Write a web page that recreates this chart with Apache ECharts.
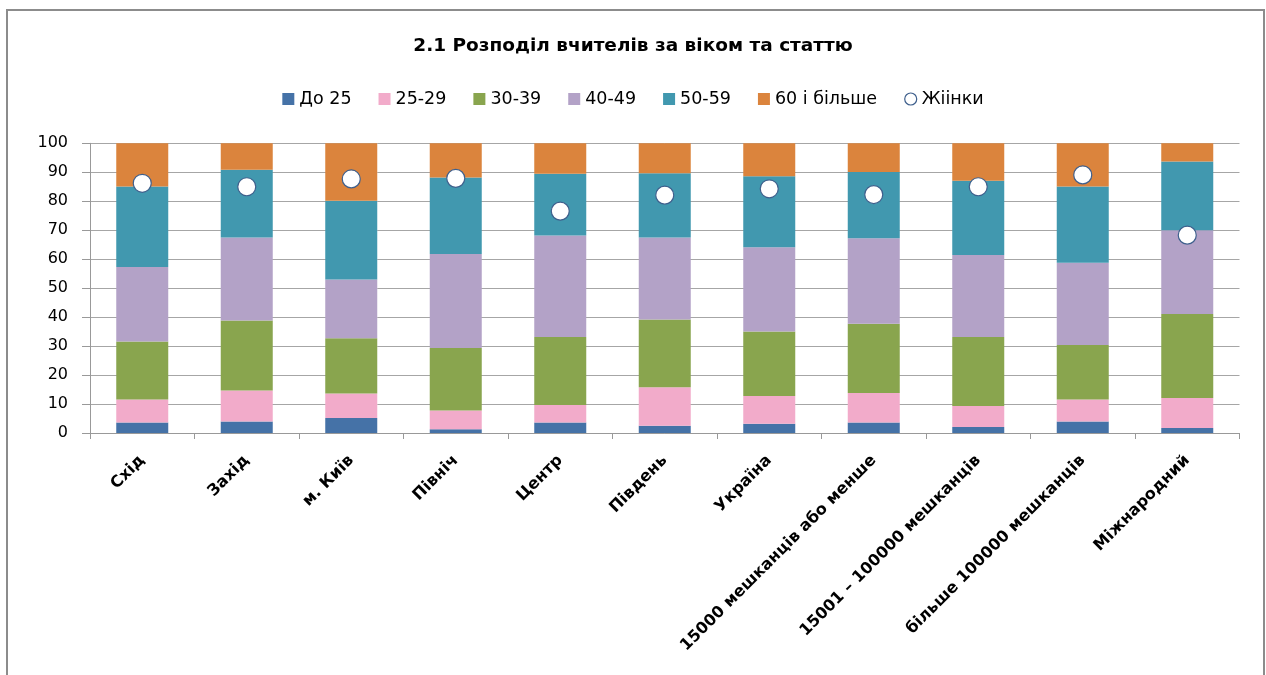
<!DOCTYPE html>
<html>
<head>
<meta charset="utf-8">
<script src="https://cdn.jsdelivr.net/npm/echarts@6/dist/echarts.min.js"></script>
<style>
html,body{margin:0;padding:0;background:#fff;}
#chart{width:1266px;height:675px;}
</style>
</head>
<body>
<div id="chart"></div>
<script>
var categories = ['Схід','Захід','м. Київ','Північ','Центр','Південь','Україна','15000 мешканців або менше','15001 – 100000 мешканців','більше 100000 мешканців','Міжнародний'];
var seriesNames = ['До 25','25-29','30-39','40-49','50-59','60 і більше'];
var under25 = [3.6, 4.0, 5.2, 1.3, 3.6, 2.5, 3.2, 3.6, 2.1, 4.0, 1.7];
var age25_29 = [8.0, 10.7, 8.4, 6.5, 6.1, 13.3, 9.6, 10.2, 7.2, 7.6, 10.4];
var age30_39 = [20.0, 24.1, 19.1, 21.5, 23.4, 23.4, 22.2, 23.9, 23.8, 18.8, 29.0];
var age40_49 = [25.7, 28.7, 20.3, 32.5, 35.1, 28.3, 29.1, 29.5, 28.3, 28.4, 28.9];
var age50_59 = [27.8, 23.4, 27.2, 26.4, 21.3, 22.2, 24.5, 22.9, 25.7, 26.3, 23.7];
var age60plus = [14.9, 9.1, 19.8, 11.8, 10.5, 10.3, 11.4, 9.9, 12.9, 14.9, 6.3];
var women = [86.2, 85.0, 87.7, 87.9, 76.6, 82.1, 84.3, 82.3, 85.0, 89.1, 68.3];
var yTicks = {min: 0, max: 100, interval: 10};

var colors = ['#4572A7', '#F2ABCA', '#89A54E', '#B3A2C7', '#4198AF', '#DB843D'];
var barData = [under25, age25_29, age30_39, age40_49, age50_59, age60plus];

var font = 'DejaVu Sans';
var series = barData.map(function (d, i) {
  return {
    name: seriesNames[i],
    type: 'bar',
    stack: 'total',
    barWidth: 52,
    data: d,
    itemStyle: {color: colors[i]},
    emphasis: {disabled: true}
  };
});
series.push({
  name: 'Жіінки',
  type: 'scatter',
  data: women,
  symbol: 'circle',
  symbolSize: 18,
  itemStyle: {color: '#ffffff', borderColor: '#3E5F8C', borderWidth: 1.2, opacity: 1},
  emphasis: {disabled: true},
  z: 10
});

var chart = echarts.init(document.getElementById('chart'), null, {renderer: 'canvas'});
chart.setOption({
  animation: false,
  backgroundColor: '#ffffff',
  graphic: [{
    type: 'rect',
    shape: {x: 7, y: 10, width: 1257, height: 700},
    style: {fill: 'none', stroke: '#8C8C8C', lineWidth: 2},
    silent: true
  }],
  title: {
    text: '2.1 Розподіл вчителів за віком та статтю',
    left: 'center',
    top: 32,
    textStyle: {fontFamily: font, fontSize: 18.5, fontWeight: 'bold', color: '#000'}
  },
  legend: {
    top: 85,
    left: 'center',
    itemWidth: 12,
    itemHeight: 12,
    itemGap: 27,
    textStyle: {fontFamily: font, fontSize: 17.5, color: '#000'},
    data: seriesNames.map(function (n) { return {name: n, icon: 'rect'}; }).concat([{name: 'Жіінки', icon: 'circle', itemStyle: {color: '#fff', borderColor: '#3E5F8C', borderWidth: 1.2, opacity: 1}}])
  },
  grid: {left: 90, right: 26.5, top: 143.3, bottom: 242, containLabel: false},
  xAxis: {
    type: 'category',
    data: categories,
    axisLine: {lineStyle: {color: '#999999', width: 1}},
    axisTick: {show: true, length: 6, lineStyle: {color: '#999999'}},
    axisLabel: {rotate: 45, margin: 25, interval: 0, fontFamily: font, fontSize: 16, fontWeight: 'bold', color: '#000'}
  },
  yAxis: {
    type: 'value',
    min: yTicks.min,
    max: yTicks.max,
    interval: yTicks.interval,
    axisLine: {show: true, lineStyle: {color: '#999999', width: 1}},
    axisTick: {show: true, length: 8, lineStyle: {color: '#999999'}},
    axisLabel: {margin: 22, fontFamily: font, fontSize: 16, color: '#000'},
    splitLine: {show: true, lineStyle: {color: '#A6A6A6', width: 1}}
  },
  series: series
});
</script>
</body>
</html>
